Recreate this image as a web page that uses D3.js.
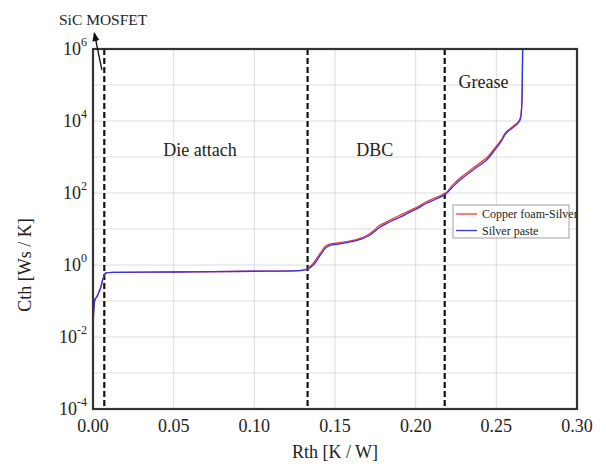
<!DOCTYPE html>
<html>
<head>
<meta charset="utf-8">
<script src="https://cdn.jsdelivr.net/npm/d3@7"></script>
<style>
  body { margin: 0; background: #fff; }
  text { font-family: "Liberation Serif", "Times New Roman", serif; fill: #222; }
</style>
</head>
<body>
<div id="chart"></div>
<script>
var width = 606, height = 466;
var margin = {left: 93, right: 29, top: 49, bottom: 57};

// data
var xTicks = [0, 0.05, 0.10, 0.15, 0.20, 0.25, 0.30];
var yLabelExp = [-4, -2, 0, 2, 4, 6];
var yGridExp = [-4, -3, -2, -1, 0, 1, 2, 3, 4, 5, 6];
var boundaries = [0.007, 0.133, 0.218];
var regions = ["Die attach", "DBC", "Grease"];
var regionPos = [[0.0663, 3.19], [0.1747, 3.19], [0.242, 5.08]];
var seriesNames = ["Copper foam-Silver", "Silver paste"];
var seriesColors = ["#ee3b3b", "#3434ee"];

var rth = [0, 0, 0.0002, 0.0006, 0.0012, 0.0023, 0.0035, 0.0048, 0.0058, 0.0068, 0.0078, 0.012,
    0.05, 0.10, 0.128, 0.1325, 0.136, 0.139, 0.142, 0.1448, 0.148, 0.155, 0.162, 0.167, 0.171,
    0.1745, 0.1775, 0.181, 0.186, 0.191, 0.196, 0.2015, 0.2067, 0.212, 0.2177, 0.2225, 0.2275,
    0.236, 0.244, 0.249, 0.253, 0.2563, 0.260, 0.2635, 0.2652, 0.2658, 0.2661, 0.2663];
var cthCopper = [1e-4, 0.009, 0.03, 0.07, 0.11, 0.13, 0.17, 0.24, 0.36, 0.5, 0.6, 0.62,
    0.64, 0.67, 0.7, 0.78, 1.05, 1.6, 2.5, 3.5, 3.9, 4.3, 4.9, 5.8, 7.2,
    9.5, 12.5, 15, 19.5, 25, 32, 42, 57, 73, 95, 160, 260,
    510, 950, 1750, 3000, 5100, 6900, 9300, 14000, 32000, 160000, 1e6];
var cthSilver = [1e-4, 0.009, 0.03, 0.07, 0.11, 0.13, 0.17, 0.24, 0.36, 0.5, 0.6, 0.62,
    0.64, 0.67, 0.7, 0.76, 0.95, 1.4, 2.2, 3.1, 3.6, 4.0, 4.6, 5.4, 6.5,
    8.5, 11, 13.5, 17.5, 22, 29, 38, 52, 66, 87, 140, 230,
    450, 830, 1550, 2700, 4700, 6400, 8700, 13000, 30000, 150000, 1e6];

var svg = d3.select("#chart").append("svg")
    .attr("width", width)
    .attr("height", height);

var x = d3.scaleLinear().domain([0, 0.30]).range([margin.left, width - margin.right]);
var y = d3.scaleLog().domain([1e-4, 1e6]).range([height - margin.bottom, margin.top]);

svg.append("defs").append("clipPath").attr("id", "plot")
    .append("rect")
    .attr("x", margin.left).attr("y", margin.top)
    .attr("width", x(0.30) - x(0)).attr("height", y(1e-4) - y(1e6));

svg.append("defs").append("marker")
    .attr("id", "arrow")
    .attr("viewBox", "0 -5 10 10")
    .attr("refX", 9).attr("refY", 0)
    .attr("markerWidth", 7).attr("markerHeight", 7)
    .attr("orient", "auto")
    .append("path")
    .attr("d", "M0,-4L10,0L0,4")
    .attr("fill", "#111");

// grid
svg.append("g").selectAll("line").data(xTicks.slice(1, -1)).enter().append("line")
    .attr("x1", function (d) { return x(d); })
    .attr("x2", function (d) { return x(d); })
    .attr("y1", y(1e6)).attr("y2", y(1e-4))
    .attr("stroke", "#dcdcdc");
svg.append("g").selectAll("line").data(yGridExp.slice(1, -1)).enter().append("line")
    .attr("x1", x(0)).attr("x2", x(0.30))
    .attr("y1", function (d) { return y(Math.pow(10, d)); })
    .attr("y2", function (d) { return y(Math.pow(10, d)); })
    .attr("stroke", "#dcdcdc");

// dashed boundaries
svg.append("g").selectAll("line").data(boundaries).enter().append("line")
    .attr("x1", function (d) { return x(d); })
    .attr("x2", function (d) { return x(d); })
    .attr("y1", y(1e6)).attr("y2", y(1e-4))
    .attr("stroke", "#111")
    .attr("stroke-width", 2.2)
    .attr("stroke-dasharray", "6,3");

// curves
var line = d3.line()
    .x(function (d) { return x(d[0]); })
    .y(function (d) { return y(d[1]); })
    .curve(d3.curveMonotoneY);

var series = [cthCopper, cthSilver];
var curves = svg.append("g").attr("clip-path", "url(#plot)");
series.forEach(function (s, i) {
    curves.append("path")
        .datum(rth.map(function (r, j) { return [r, s[j]]; }))
        .attr("d", line)
        .attr("fill", "none")
        .attr("stroke", seriesColors[i])
        .attr("stroke-width", 1.3);
});

// frame
svg.append("rect")
    .attr("x", x(0)).attr("y", y(1e6))
    .attr("width", x(0.30) - x(0)).attr("height", y(1e-4) - y(1e6))
    .attr("fill", "none")
    .attr("stroke", "#333")
    .attr("stroke-width", 2.2);

// x tick labels
svg.append("g").selectAll("text").data(xTicks).enter().append("text")
    .attr("x", function (d) { return x(d); })
    .attr("y", y(1e-4) + 23)
    .attr("text-anchor", "middle")
    .style("font-size", "18px")
    .text(function (d) { return d3.format(".2f")(d); });

// y tick labels 10^n
var yl = svg.append("g").selectAll("text").data(yLabelExp).enter().append("text")
    .attr("x", margin.left - 6)
    .attr("y", function (d) { return y(Math.pow(10, d)) + 6; })
    .attr("text-anchor", "end")
    .style("font-size", "18px");
yl.append("tspan").text("10");
yl.append("tspan")
    .attr("dy", -9)
    .style("font-size", "12px")
    .text(function (d) { return d; });

// axis titles
svg.append("text")
    .attr("x", (x(0) + x(0.30)) / 2)
    .attr("y", height - 8)
    .attr("text-anchor", "middle")
    .style("font-size", "18px")
    .text("Rth [K / W]");
svg.append("text")
    .attr("transform", "translate(31," + (y(1)) + ") rotate(-90)")
    .attr("text-anchor", "middle")
    .style("font-size", "18px")
    .text("Cth [Ws / K]");

// region labels
svg.append("g").selectAll("text").data(regions).enter().append("text")
    .attr("x", function (d, i) { return x(regionPos[i][0]); })
    .attr("y", function (d, i) { return y(Math.pow(10, regionPos[i][1])) + 6; })
    .attr("text-anchor", "middle")
    .style("font-size", "18px")
    .text(function (d) { return d; });

// SiC MOSFET annotation
svg.append("line")
    .attr("x1", x(0.0055)).attr("y1", 70)
    .attr("x2", x(0.0008)).attr("y2", 33)
    .attr("stroke", "#111")
    .attr("stroke-width", 1.3)
    .attr("marker-end", "url(#arrow)");
svg.append("text")
    .attr("x", 59).attr("y", 25)
    .style("font-size", "15.5px")
    .text("SiC MOSFET");

// legend
var lg = svg.append("g").attr("transform", "translate(453,205)");
lg.append("rect")
    .attr("width", 116).attr("height", 33)
    .attr("fill", "#fff")
    .attr("stroke", "#a0a0a0");
seriesNames.forEach(function (name, i) {
    lg.append("line")
        .attr("x1", 3).attr("x2", 24)
        .attr("y1", 9 + i * 16.5).attr("y2", 9 + i * 16.5)
        .attr("stroke", seriesColors[i])
        .attr("stroke-width", 1.3);
    lg.append("text")
        .attr("x", 29).attr("y", 13 + i * 16.5)
        .style("font-size", "12px")
        .text(name);
});
</script>
</body>
</html>
